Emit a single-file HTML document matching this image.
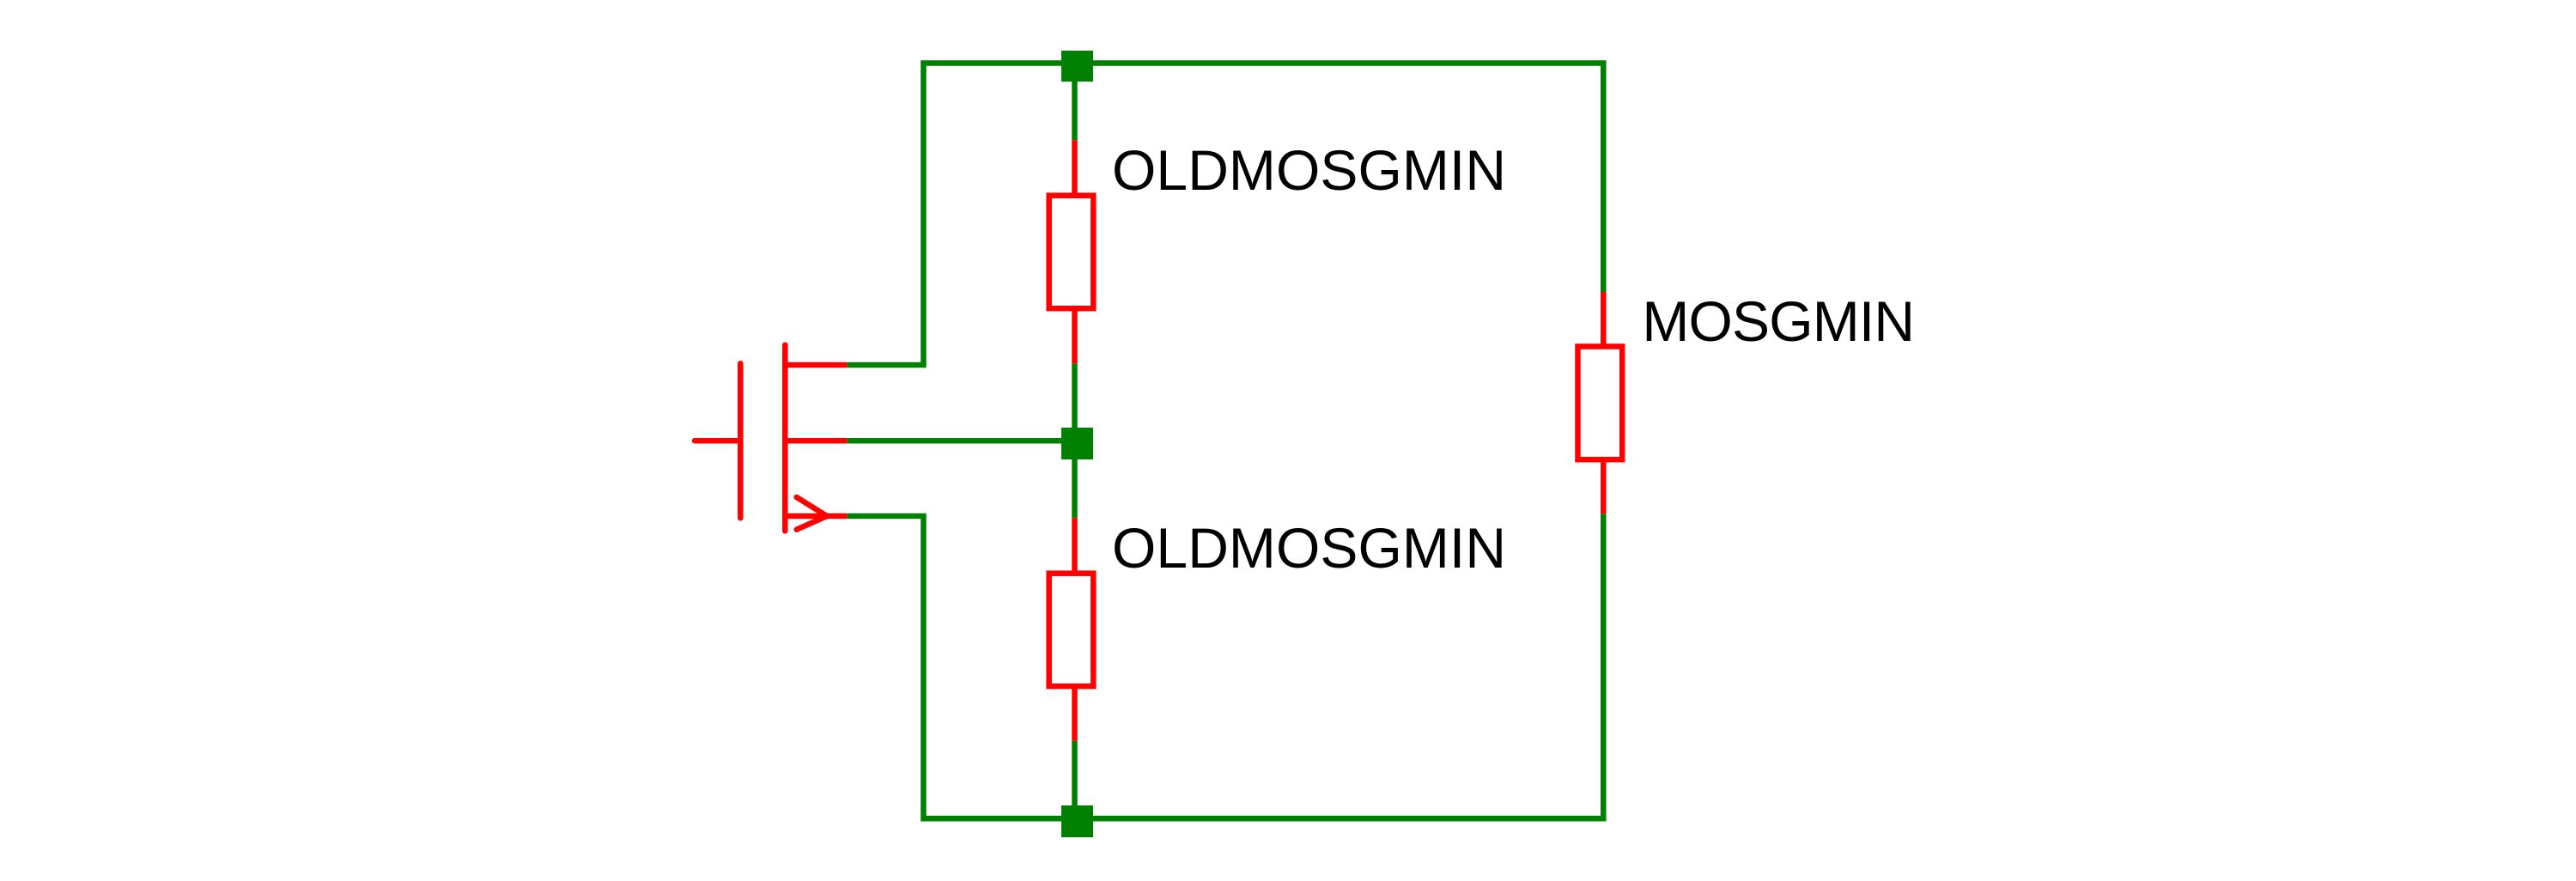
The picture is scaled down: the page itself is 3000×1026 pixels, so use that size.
<!DOCTYPE html>
<html>
<head>
<meta charset="utf-8">
<style>
  html, body { margin: 0; padding: 0; background: #ffffff; }
  svg { display: block; }
  text { font-family: "Liberation Sans", Arial, sans-serif; font-size: 66px; fill: #000000; }
</style>
</head>
<body>
<svg width="3000" height="1026" viewBox="0 0 3000 1026" xmlns="http://www.w3.org/2000/svg">
  <rect x="0" y="0" width="3000" height="1026" fill="#ffffff"/>

  <!-- Green wires -->
  <g fill="none" stroke="#008000" stroke-width="6.5" stroke-linejoin="miter" stroke-linecap="butt">
    <path d="M986.7 425 H1075.5 V73.5 H1867.3 V340"/>
    <path d="M1251.5 77 V163.3"/>
    <path d="M1251.5 423.3 V603.3"/>
    <path d="M986.7 513.3 H1254"/>
    <path d="M986.7 601 H1075.5 V953.3 H1867.3 V598.3"/>
    <path d="M1251.5 862.7 V956"/>
  </g>

  <!-- Junction dots -->
  <g fill="#008000">
    <rect x="1236" y="59" width="37" height="36"/>
    <rect x="1236" y="498" width="37" height="37"/>
    <rect x="1236" y="938" width="37" height="37"/>
  </g>

  <!-- Red components -->
  <g fill="none" stroke="#ff0000" stroke-width="6.5" stroke-linejoin="miter">
    <!-- Resistor 1 -->
    <path d="M1251.5 163.3 V227.7"/>
    <rect x="1221.7" y="227.7" width="51.6" height="131.5"/>
    <path d="M1251.5 359.2 V423.3"/>
    <!-- Resistor 2 -->
    <path d="M1251.5 603.3 V667.7"/>
    <rect x="1221.7" y="667.7" width="51.6" height="131.5"/>
    <path d="M1251.5 799.2 V862.7"/>
    <!-- Resistor 3 -->
    <path d="M1867.3 340 V403.5"/>
    <rect x="1837.5" y="403.5" width="51.7" height="131.7"/>
    <path d="M1867.3 535.2 V598.3"/>
  </g>

  <!-- MOSFET -->
  <g fill="none" stroke="#ff0000" stroke-width="6.5" stroke-linecap="round" stroke-linejoin="miter">
    <path d="M809 513.3 H862.3"/>
    <path d="M862.3 423.3 V603.3"/>
    <path d="M914.3 401.7 V618.3"/>
    <path d="M914.3 425 H986.7" stroke-linecap="butt"/>
    <path d="M914.3 513.3 H986.7" stroke-linecap="butt"/>
    <path d="M914.3 601 H986.7" stroke-linecap="butt"/>
    <path d="M927.7 579 L963 601 L927.7 616.7"/>
  </g>

  <!-- Labels -->
  <text x="1295" y="221" textLength="459" lengthAdjust="spacing">OLDMOSGMIN</text>
  <text x="1295" y="661" textLength="459" lengthAdjust="spacing">OLDMOSGMIN</text>
  <text x="1912.4" y="397" textLength="317.6" lengthAdjust="spacing">MOSGMIN</text>
</svg>
</body>
</html>
